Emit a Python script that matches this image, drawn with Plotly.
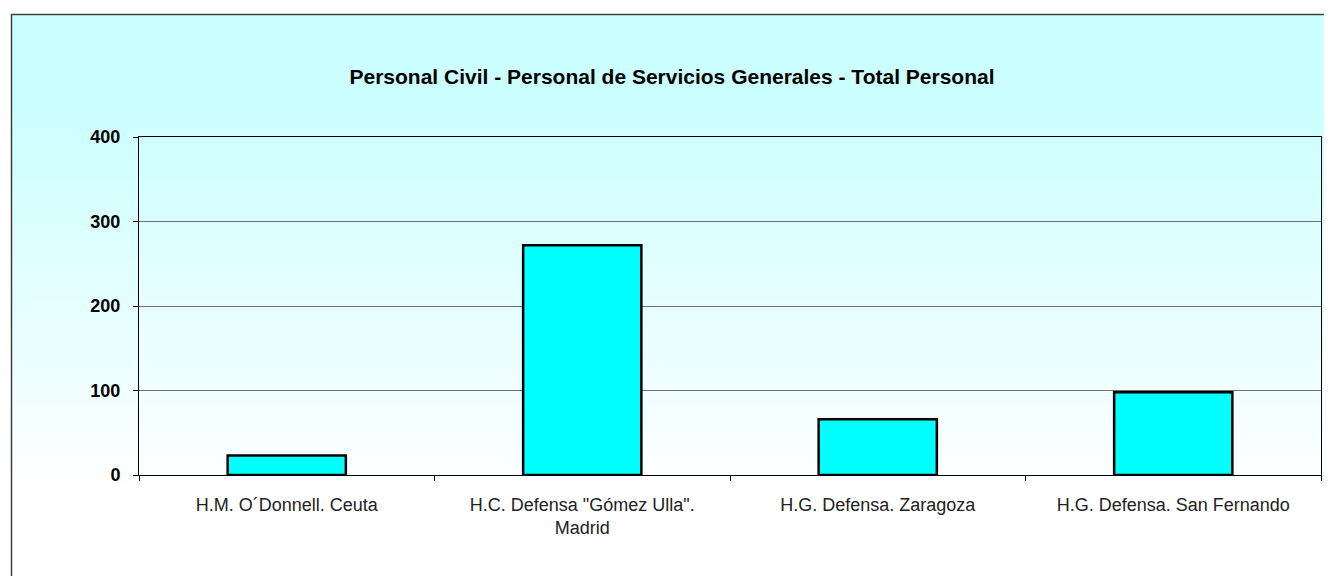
import plotly.graph_objects as go

categories = ["H.M. O\u00b4Donnell. Ceuta",
              "H.C. Defensa \"G\u00f3mez Ulla\".<br>Madrid",
              "H.G. Defensa. Zaragoza",
              "H.G. Defensa. San Fernando"]
values = [23, 272, 66, 98]
y_ticks = [0, 100, 200, 300, 400]
title_text = "Personal Civil - Personal de Servicios Generales - Total Personal"

# page has an 8px body margin; work in figure coordinates
OFF = 8
W, H = 1332 - OFF, 576 - OFF
L, T = 139 - OFF, 137 - OFF
R = W - (1321 - OFF)
B = H - (475 - OFF)
pw = W - L - R
ph = H - T - B

def sx(px):  # screen x -> paper
    return (px - OFF - L) / pw

def sy(py):  # screen y -> paper
    return (H - B - (py - OFF)) / ph

FONT = "Arial, Liberation Sans, sans-serif"

fig = go.Figure()
fig.add_trace(go.Bar(
    x=categories, y=values,
    marker=dict(color="#00FFFF", line=dict(color="#000000", width=2.5)),
    width=0.4, hoverinfo="x+y",
))

shapes = []
top_c = (0xCC, 0xFF, 0xFF)
g0, g1 = 110, 490
step = 4
y = 14
while y < 600:
    t = min(max((y - g0) / (g1 - g0), 0), 1)
    c = tuple(int(round(a + (255 - a) * t)) for a in top_c)
    shapes.append(dict(type="rect", xref="paper", yref="paper",
                       x0=sx(11), x1=sx(1360),
                       y0=sy(y + step + 0.5), y1=sy(y),
                       fillcolor="rgb(%d,%d,%d)" % c, line=dict(width=0), layer="below"))
    y += step
shapes.append(dict(type="rect", xref="paper", yref="paper",
                   x0=sx(11.5), x1=sx(1360),
                   y0=sy(620), y1=sy(14.5),
                   fillcolor="rgba(0,0,0,0)", line=dict(color="#404040", width=1.5), layer="below"))

fig.update_layout(
    width=W, height=H,
    margin=dict(l=L, r=R, t=T, b=B),
    paper_bgcolor="white",
    plot_bgcolor="rgba(0,0,0,0)",
    shapes=shapes,
    showlegend=False,
    bargap=0.6,
    font=dict(family=FONT, color="#000000"),
    title=dict(text="<b>" + title_text + "</b>", font=dict(size=21, color="#000000", family=FONT),
               xref="container", x=(672 - OFF) / W, xanchor="center",
               yref="container", y=1 - (77 - OFF) / H, yanchor="middle"),
)
fig.update_yaxes(range=[0, 400], tickvals=y_ticks, showgrid=True, gridcolor="#707070", gridwidth=1,
                 showline=True, linecolor="#000000", linewidth=1, mirror=True,
                 ticks="outside", ticklen=5, tickcolor="#000000",
                 tickfont=dict(size=18, color="#000000", family=FONT, weight="bold"),
                 ticklabelstandoff=9, zeroline=False, fixedrange=True)
fig.update_xaxes(showline=True, linecolor="#000000", linewidth=1, mirror=True,
                 ticks="outside", ticklen=5, tickcolor="#000000", tickson="boundaries",
                 tickfont=dict(size=18, color="#222222", family=FONT), ticklabelstandoff=13,
                 fixedrange=True)

fig.write_html("out.html")
